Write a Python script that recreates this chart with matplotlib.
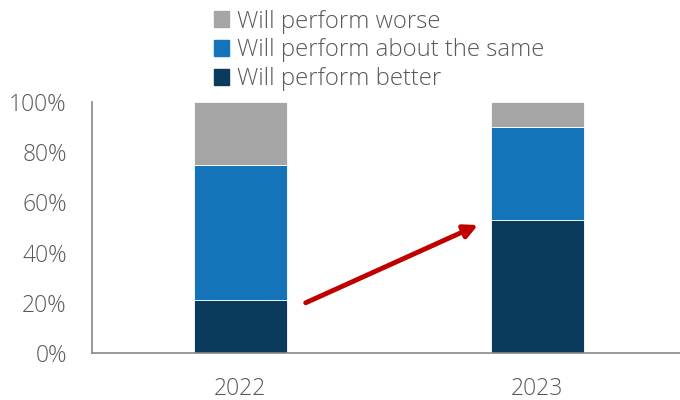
import matplotlib.pyplot as plt
from matplotlib.patches import Patch

years = ["2022", "2023"]
better = [21, 53]
same = [54, 37]
worse = [25, 10]
arrow_from = (0.22, 20)
arrow_to = (0.80, 51)

c_better = "#0A3A5C"
c_same = "#1473B9"
c_worse = "#A5A5A5"
txt = "#595959"

plt.rcParams['font.family'] = ['Open Sans', 'DejaVu Sans']
plt.rcParams['font.weight'] = 'light'

fig = plt.figure(figsize=(6.8, 4), dpi=100)
ax = fig.add_axes([0.135, 0.1175, 0.865, 0.6275])

x = range(len(years))
w = 0.313
ax.bar(x, better, w, color=c_better, edgecolor="white", linewidth=0.6)
ax.bar(x, same, w, bottom=better, color=c_same, edgecolor="white", linewidth=0.6)
bottom2 = [a + b for a, b in zip(better, same)]
ax.bar(x, worse, w, bottom=bottom2, color=c_worse, edgecolor="white", linewidth=0.6)

ax.annotate("", xy=arrow_to, xytext=arrow_from,
            arrowprops=dict(arrowstyle="-|>,head_length=0.8,head_width=0.4",
                            color="#C00000", lw=3.5, shrinkA=0, shrinkB=0))

ax.set_xlim(-0.5, 1.48)
ax.set_ylim(0, 100)
ax.set_xticks(list(x))
ax.set_xticklabels(years)
ax.set_yticks(range(0, 101, 20))
ax.set_yticklabels([f"{v}%" for v in range(0, 101, 20)])
ax.tick_params(length=0, labelsize=16.5, colors=txt)
ax.tick_params(axis="y", pad=18)
ax.tick_params(axis="x", pad=17)
for s in ["top", "right"]:
    ax.spines[s].set_visible(False)
for s in ["left", "bottom"]:
    ax.spines[s].set_color("#888888")
    ax.spines[s].set_linewidth(1.2)

handles = [Patch(color=c_worse), Patch(color=c_same), Patch(color=c_better)]
labels = ["Will perform worse", "Will perform about the same", "Will perform better"]
leg = fig.legend(handles, labels, loc="upper left", bbox_to_anchor=(0.3, 1.0),
                 frameon=False, fontsize=17.2, handlelength=0.65, handleheight=0.65,
                 handletextpad=0.35, labelspacing=0.2, borderaxespad=0)
for t in leg.get_texts():
    t.set_color(txt)

fig.savefig("out.png", dpi=100)
